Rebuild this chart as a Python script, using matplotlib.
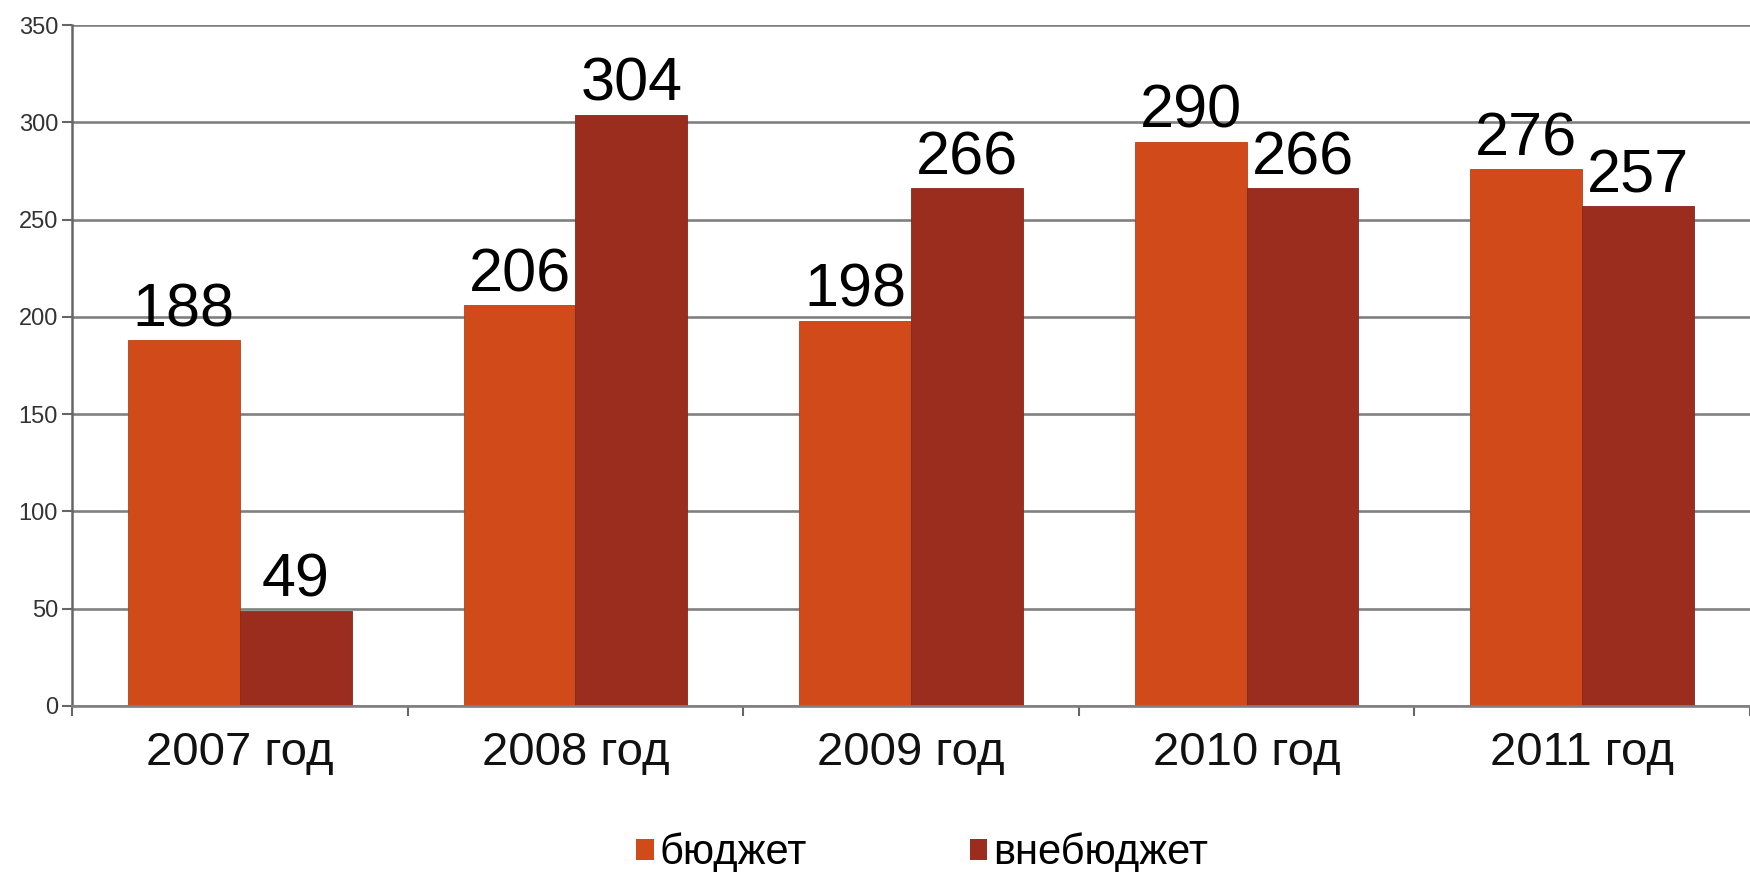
import numpy as np
import matplotlib.pyplot as plt
from matplotlib.patches import Patch

plt.rcParams['font.family'] = ['Liberation Sans', 'DejaVu Sans']

# Data
years = ['2007 год', '2008 год', '2009 год', '2010 год', '2011 год']
budget = [188, 206, 198, 290, 276]
extra_budget = [49, 304, 266, 266, 257]
series_names = ['бюджет', 'внебюджет']

c_budget = '#D14A19'
c_extra = '#9B2D1F'

fig = plt.figure(figsize=(17.5, 8.72), dpi=100)
ax = fig.add_axes([72 / 1750, 1 - 706 / 872, 1 - 72 / 1750, (706 - 25) / 872])

x = np.arange(len(years))
w = 1 / 3
b1 = ax.bar(x - w / 2, budget, w, color=c_budget, edgecolor='#b8401a', linewidth=0.6, zorder=2)
b2 = ax.bar(x + w / 2, extra_budget, w, color=c_extra, edgecolor='#85281c', linewidth=0.6, zorder=2)

# value labels above bars
for bars, vals in ((b1, budget), (b2, extra_budget)):
    for r, v in zip(bars, vals):
        ax.annotate(str(v), (r.get_x() + r.get_width() / 2, v),
                    xytext=(0, 10), textcoords='offset points',
                    ha='center', va='baseline', fontsize=44, color='black', zorder=4)

ax.set_ylim(0, 350)
ax.set_xlim(-0.5, -0.5 + (1750 - 72) / 337)
ax.set_yticks(np.arange(0, 351, 50))
ax.yaxis.grid(True, color='#808080', linewidth=1.9, zorder=0)
ax.set_axisbelow(True)

# x ticks: marks at category boundaries, labels at centres
ax.set_xticks(np.arange(-0.5, 5, 1.0))
ax.set_xticklabels([])
ax.set_xticks(x, minor=True)
ax.set_xticklabels(years, minor=True, fontsize=34, color='#111111')
ax.tick_params(axis='x', which='minor', length=0, pad=18)
ax.tick_params(axis='x', which='major', length=7, width=1.5, color='#666666', direction='out')
ax.tick_params(axis='y', length=7, width=1.5, color='#666666', labelsize=17,
               labelcolor='#333333', pad=3)

for s in ('top', 'right'):
    ax.spines[s].set_visible(False)
ax.spines['left'].set_color('#666666')
ax.spines['left'].set_linewidth(1.8)
ax.spines['bottom'].set_color('#808080')
ax.spines['bottom'].set_linewidth(1.9)

handles = [Patch(facecolor=c_budget), Patch(facecolor=c_extra)]
fig.legend(handles, series_names, loc='center', bbox_to_anchor=(0.527, 0.022),
           ncol=2, frameon=False, fontsize=30, handlelength=0.42, handleheight=0.42,
           handletextpad=0.15, columnspacing=3.9, borderpad=0)

fig.savefig('out.png', dpi=100)
